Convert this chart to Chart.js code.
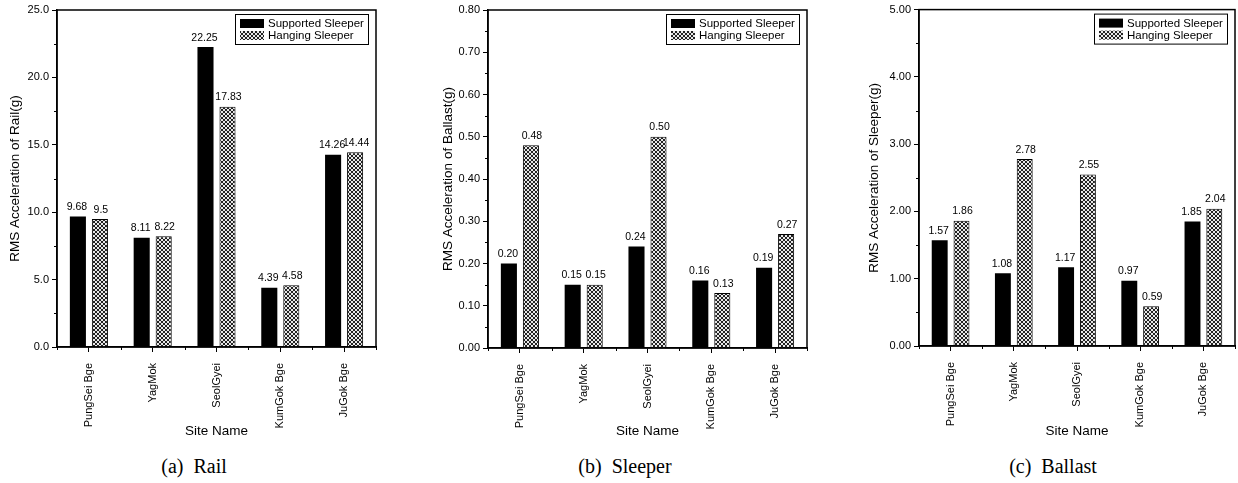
<!DOCTYPE html>
<html>
<head>
<meta charset="utf-8">
<script src="https://cdn.jsdelivr.net/npm/chart.js@4.4.1/dist/chart.umd.min.js"></script>
<style>
  body { margin: 0; background: #fff; width: 1238px; height: 483px; position: relative; overflow: hidden; }
  .box { position: absolute; top: 0; height: 440px; }
  .cap { position: absolute; top: 455px; font-family: "Liberation Serif", "Times New Roman", serif; font-size: 20px; color: #000; transform: translateX(-50%); white-space: pre; }
</style>
</head>
<body>
<div class="box" style="left:0;width:400px"><canvas id="rail"></canvas></div>
<div class="box" style="left:420px;width:400px"><canvas id="sleeper"></canvas></div>
<div class="box" style="left:840px;width:398px"><canvas id="ballast"></canvas></div>
<div class="cap" style="left:194px">(a)  Rail</div>
<div class="cap" style="left:625px">(b)  Sleeper</div>
<div class="cap" style="left:1053px">(c)  Ballast</div>
<script>
const sites = ['PungSei Bge', 'YagMok', 'SeolGyei', 'KumGok Bge', 'JuGok Bge'];
const seriesNames = ['Supported Sleeper', 'Hanging Sleeper'];

const railSupported = [9.68, 8.11, 22.25, 4.39, 14.26];
const railHanging = [9.5, 8.22, 17.83, 4.58, 14.44];
const sleeperSupported = [0.20, 0.15, 0.24, 0.16, 0.19];
const sleeperHanging = [0.48, 0.15, 0.50, 0.13, 0.27];
const ballastSupported = [1.57, 1.08, 1.17, 0.97, 1.85];
const ballastHanging = [1.86, 2.78, 2.55, 0.59, 2.04];

const FONT = '"Liberation Sans", Arial, sans-serif';

// cross-hatch fill for the hanging sleeper bars
function hatch() {
    const c = document.createElement('canvas');
    c.width = 4; c.height = 4;
    const g = c.getContext('2d');
    g.fillStyle = '#e8e8e8';
    g.fillRect(0, 0, 4, 4);
    g.fillStyle = '#222';
    [[0,0],[1,1],[2,2],[3,3],[3,0],[2,1],[1,2],[0,3]].forEach(p => g.fillRect(p[0], p[1], 1, 1));
    return g.createPattern(c, 'repeat');
}
const hatchFill = hatch();

const framePlugin = {
    id: 'frame',
    afterDraw(chart) {
        const { ctx, chartArea: a, scales } = chart;
        ctx.save();
        ctx.strokeStyle = '#000';
        ctx.lineWidth = 1.5;
        ctx.strokeRect(a.left, a.top, a.right - a.left, a.bottom - a.top);
        ctx.lineWidth = 1;
        // minor ticks on the value axis
        const y = scales.y;
        const half = y.options.ticks.stepSize / 2;
        ctx.beginPath();
        for (let v = half; v < y.max; v += half * 2) {
            const py = Math.round(y.getPixelForValue(v)) + 0.5;
            ctx.moveTo(a.left - 3, py);
            ctx.lineTo(a.left, py);
        }
        // minor ticks between sites
        const x = scales.x;
        for (let i = 0; i <= sites.length; i++) {
            const px = Math.round(x.getPixelForValue(i - 0.5)) + 0.5;
            ctx.moveTo(px, a.bottom);
            ctx.lineTo(px, a.bottom + 3);
        }
        ctx.stroke();
        ctx.restore();
    }
};

const valueLabels = {
    id: 'valueLabels',
    afterDatasetsDraw(chart, args, opts) {
        const ctx = chart.ctx;
        ctx.save();
        ctx.fillStyle = '#000';
        ctx.font = '10.5px ' + FONT;
        ctx.textAlign = 'center';
        ctx.textBaseline = 'bottom';
        chart.data.datasets.forEach((ds, di) => {
            chart.getDatasetMeta(di).data.forEach((bar, i) => {
                ctx.fillText(opts.fmt(ds.data[i]), bar.x + (di ? 1 : -1), bar.y - 4);
            });
        });
        ctx.restore();
    }
};

const boxLegend = {
    id: 'boxLegend',
    afterDraw(chart) {
        const { ctx, chartArea: a } = chart;
        ctx.save();
        ctx.font = '11.5px ' + FONT;
        const textW = Math.max(...chart.data.datasets.map(ds => ctx.measureText(ds.label).width));
        const w = Math.ceil(33 + textW + 4), h = 30;
        const x0 = a.right - 8 - w, y0 = a.top + 4;
        ctx.fillStyle = '#fff';
        ctx.fillRect(x0, y0, w, h);
        ctx.strokeStyle = '#000';
        ctx.lineWidth = 1;
        ctx.strokeRect(x0 + 0.5, y0 + 0.5, w, h);
        ctx.textBaseline = 'middle';
        chart.data.datasets.forEach((ds, i) => {
            const cy = y0 + 9 + i * 12;
            ctx.fillStyle = ds.backgroundColor;
            ctx.fillRect(x0 + 5, cy - 4, 24, 9);
            ctx.fillStyle = '#000';
            ctx.fillText(ds.label, x0 + 33, cy + 1);
        });
        ctx.restore();
    }
};

function makeChart(id, supported, hanging, cfg) {
    new Chart(document.getElementById(id), {
        type: 'bar',
        data: {
            labels: sites,
            datasets: [
                { label: seriesNames[0], data: supported, backgroundColor: '#000', borderColor: '#000', borderWidth: 0 },
                { label: seriesNames[1], data: hanging, backgroundColor: hatchFill, borderColor: '#000', borderWidth: 1 }
            ]
        },
        options: {
            responsive: false,
            animation: false,
            events: [],
            categoryPercentage: 0.69,
            barPercentage: 0.73,
            layout: { padding: { top: cfg.top, right: cfg.right, left: 0, bottom: 0 } },
            plugins: {
                legend: { display: false },
                tooltip: { enabled: false },
                valueLabels: { fmt: cfg.fmt }
            },
            scales: {
                x: {
                    afterFit: s => { s.height = cfg.xh; },
                    grid: { display: true, offset: false, drawOnChartArea: false, tickLength: 5, color: '#000' },
                    border: { display: true, color: '#000', width: 1.5 },
                    ticks: { color: '#000', font: { family: FONT, size: 11 }, minRotation: 90, maxRotation: 90, padding: 11 },
                    title: { display: true, text: 'Site Name', color: '#000', font: { family: FONT, size: 13.5 }, padding: { top: 2, bottom: 1 } }
                },
                y: {
                    min: 0,
                    max: cfg.max,
                    afterFit: s => { s.width = cfg.yw; },
                    grid: { display: true, drawOnChartArea: false, tickLength: 5, color: '#000' },
                    border: { display: true, color: '#000', width: 1.5 },
                    ticks: {
                        stepSize: cfg.step,
                        color: '#000',
                        font: { family: FONT, size: 11 },
                        padding: 3,
                        callback: v => v.toFixed(cfg.dec)
                    },
                    title: { display: true, text: cfg.title, color: '#000', font: { family: FONT, size: 13.5 }, padding: { top: cfg.tpad, bottom: 0 } }
                }
            }
        },
        plugins: [framePlugin, valueLabels, boxLegend]
    });
}

function sizeCanvas(id, w, h) {
    const c = document.getElementById(id);
    c.width = w; c.height = h;
    c.style.width = w + 'px'; c.style.height = h + 'px';
}
sizeCanvas('rail', 400, 440);
sizeCanvas('sleeper', 400, 440);
sizeCanvas('ballast', 398, 440);

makeChart('rail', railSupported, railHanging, {
    top: 10, right: 24, yw: 57, xh: 93, max: 25, step: 5, dec: 1, tpad: 7,
    title: 'RMS Acceleration of Rail(g)', fmt: v => String(v)
});
makeChart('sleeper', sleeperSupported, sleeperHanging, {
    top: 10, right: 13, yw: 68, xh: 92, max: 0.8, step: 0.1, dec: 2, tpad: 20,
    title: 'RMS Acceleration of Ballast(g)', fmt: v => v.toFixed(2)
});
makeChart('ballast', ballastSupported, ballastHanging, {
    top: 9, right: 3, yw: 79, xh: 94, max: 5, step: 1, dec: 2, tpad: 26,
    title: 'RMS Acceleration of Sleeper(g)', fmt: v => v.toFixed(2)
});
</script>
</body>
</html>
